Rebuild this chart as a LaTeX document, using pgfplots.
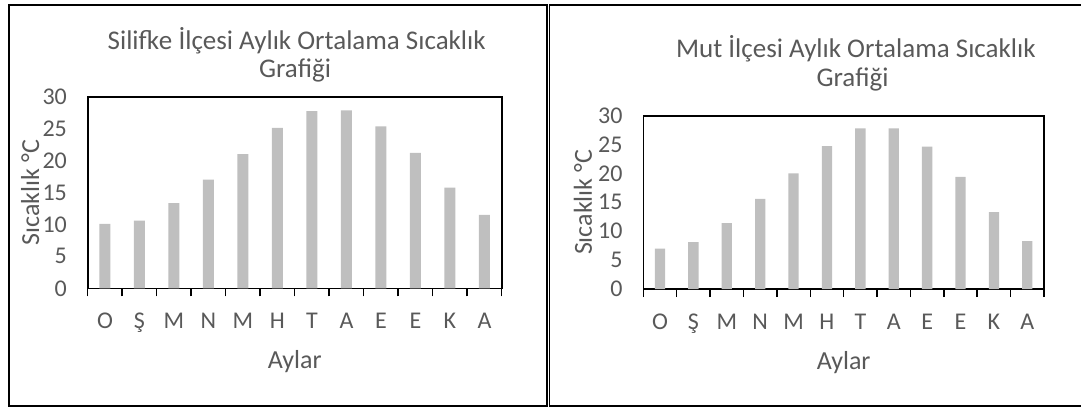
\documentclass[border=0pt]{standalone}
\usepackage{pgfplots}
\pgfplotsset{compat=1.18}
\usepackage{fontspec}
\setmainfont{Carlito}
\definecolor{txt}{HTML}{595959}
\definecolor{barg}{HTML}{BFBFBF}
\pgfplotsset{
  excelbar/.style={
    anchor=south west, scale only axis,
    line width=1.6pt,
    xmin=-0.5, xmax=11.5, ymin=0, ymax=30,
    ytick={0,5,...,30},
    xtick={0,...,11},
    xticklabels={O,Ş,M,N,M,H,T,A,E,E,K,A},
    major tick length=0pt,
    minor xtick={-0.5,0.5,...,11.5},
    minor tick length=8pt,
    tick align=outside,
    xtick pos=bottom, ytick pos=left,
    ytick style={draw=none},
    minor x tick style={black, line width=1.5pt},
    axis line style={black, line width=1.6pt},
    /pgf/number format/assume math mode=true,
    yticklabel style={font=\fontsize{24}{27}\selectfont, text=txt, anchor=east, inner sep=0pt, xshift=-20pt},
    xticklabel style={font=\fontsize{24}{27}\selectfont, text=txt, anchor=base, inner sep=0pt, yshift=-40pt},
    xlabel={Aylar},
    ylabel={Sıcaklık °C},
    label style={font=\fontsize{26}{29}\selectfont, text=txt},
    xlabel style={at={(axis description cs:0.5,0)}, anchor=base, inner sep=0pt, yshift=-80pt},
  }
}
\begin{document}
\begin{tikzpicture}[x=1pt,y=1pt]
\useasboundingbox (0,0) rectangle (1081,408);
\draw[line width=1.5pt, black] (9,2) rectangle (547,403);
\draw[line width=1.5pt, black] (1085,403) -- (549.5,403) -- (549.5,2) -- (1085,2);

\begin{axis}[excelbar, at={(87.7pt,119.7pt)}, width=414pt, height=191.6pt,
  ylabel style={at={(axis description cs:-0.139,0.5)}, anchor=center, inner sep=0pt}]
\addplot[ybar, bar width=11pt, fill=barg, draw=none] coordinates {
(0,10.1) (1,10.6) (2,13.35) (3,17.0) (4,21.0) (5,25.1) (6,27.75) (7,27.85) (8,25.35) (9,21.2) (10,15.75) (11,11.5)};
\end{axis}

\begin{axis}[excelbar, at={(643.3pt,119pt)}, width=400.7pt, height=173.3pt,
  ylabel style={at={(axis description cs:-0.1505,0.5)}, anchor=center, inner sep=0pt}]
\addplot[ybar, bar width=10.3pt, fill=barg, draw=none] coordinates {
(0,7.0) (1,8.1) (2,11.4) (3,15.6) (4,20.0) (5,24.75) (6,27.8) (7,27.8) (8,24.65) (9,19.4) (10,13.3) (11,8.3)};
\end{axis}

\begin{scope}[every node/.style={font=\fontsize{27}{31}\selectfont, text=txt, anchor=base, inner sep=0pt}]
\node at (296.7,358.8) {Silifke İlçesi Aylık Ortalama Sıcaklık};
\node at (295,330.5) {Grafiği};
\node at (855.8,350.5) {Mut İlçesi Aylık Ortalama Sıcaklık};
\node at (852.5,321.5) {Grafiği};
\end{scope}
\end{tikzpicture}
\end{document}
